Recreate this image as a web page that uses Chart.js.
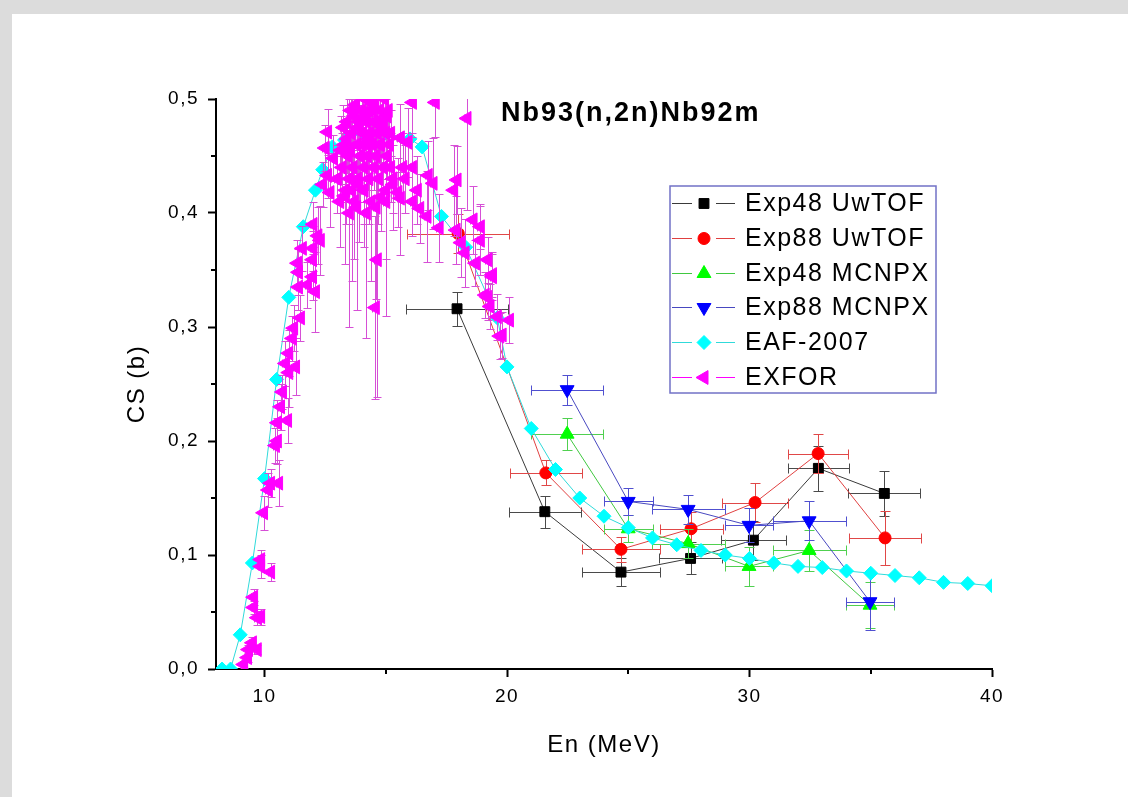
<!DOCTYPE html>
<html>
<head>
<meta charset="utf-8">
<title>Nb93(n,2n)Nb92m</title>
<script src="https://cdn.jsdelivr.net/npm/chart.js@4.4.1/dist/chart.umd.min.js"></script>
<style>
  html, body { margin: 0; padding: 0; }
  body { width: 1128px; height: 797px; background: #dcdcdc; overflow: hidden; position: relative; }
  #wrap { position: absolute; left: 12px; top: 14px; width: 1116px; height: 783px; background: #fff; }
</style>
</head>
<body>
<div id="wrap"><canvas id="chart"></canvas></div>
<script>
// axis ticks
const xTicks = [10, 20, 30, 40];
const xMinorTicks = [15, 25, 35];
const yTicks = [0, 0.1, 0.2, 0.3, 0.4, 0.5];
const yTickLabels = ['0,0', '0,1', '0,2', '0,3', '0,4', '0,5'];
const yMinorTicks = [0.05, 0.15, 0.25, 0.35, 0.45];

const seriesNames = ['Exp48 UwTOF', 'Exp88 UwTOF', 'Exp48 MCNPX', 'Exp88 MCNPX', 'EAF-2007', 'EXFOR'];

// Exp48 UwTOF
const exp48UwE   = [17.94, 21.56, 24.7, 27.57, 30.16, 32.84, 35.56];
const exp48UwCS  = [0.316, 0.138, 0.085, 0.097, 0.113, 0.176, 0.154];
const exp48UwDE  = [2.1, 1.48, 1.6, 1.3, 1.35, 1.25, 1.48];
const exp48UwDCS = [0.015, 0.014, 0.012, 0.014, 0.017, 0.02, 0.02];

// Exp88 UwTOF
const exp88UwE   = [17.99, 21.6, 24.7, 27.59, 30.23, 32.83, 35.59];
const exp88UwCS  = [0.382, 0.172, 0.105, 0.123, 0.146, 0.189, 0.115];
const exp88UwDE  = [2.1, 1.48, 1.6, 1.3, 1.35, 1.25, 1.48];
const exp88UwDCS = [0.017, 0.011, 0.011, 0.015, 0.017, 0.0175, 0.024];

// Exp48 MCNPX
const exp48McE   = [22.48, 25.0, 27.47, 29.98, 32.46, 34.97];
const exp48McCS  = [0.206, 0.123, 0.11, 0.09, 0.104, 0.056];
const exp48McDE  = [1.48, 1.0, 1.5, 1.0, 1.5, 1.0];
const exp48McDCS = [0.014, 0.012, 0.013, 0.017, 0.018, 0.02];

// Exp88 MCNPX
const exp88McE   = [22.48, 25.0, 27.47, 29.98, 32.46, 34.97];
const exp88McCS  = [0.245, 0.147, 0.14, 0.126, 0.13, 0.059];
const exp88McDE  = [1.48, 1.0, 1.5, 1.0, 1.5, 1.0];
const exp88McDCS = [0.013, 0.012, 0.013, 0.015, 0.017, 0.025];

// EAF-2007 evaluation
const eafE  = [8.25, 8.6, 9.0, 9.5, 10.0, 10.5, 11.0, 11.6, 12.1, 12.4,
               12.8, 13.3, 14.0, 15.0, 16.0, 16.5, 17.3, 18.3, 19.6, 20.0,
               21, 22, 23, 24, 25, 26, 27, 28, 29, 30,
               31, 32, 33, 34, 35, 36, 37, 38, 39, 40];
const eafCS = [0.0, 0.0, 0.03, 0.093, 0.167, 0.254, 0.326, 0.388, 0.42, 0.438,
               0.458, 0.464, 0.47, 0.47, 0.465, 0.458, 0.397, 0.37, 0.308, 0.265,
               0.211, 0.175, 0.15, 0.134, 0.124, 0.115, 0.109, 0.104, 0.1, 0.097,
               0.093, 0.09, 0.089, 0.086, 0.084, 0.082, 0.08, 0.076, 0.075, 0.073];

// EXFOR measurements
const exforE = [
  9.14, 9.3, 9.34, 9.5, 9.7, 9.7, 9.84, 9.55, 9.55, 9.84,
  10.25, 9.84, 9.96, 10.16, 10.25, 10.58, 10.45, 10.53, 10.95, 10.53,
  10.66, 10.74, 11.0, 11.28, 10.86, 11.0, 11.15, 11.2, 11.48, 12.1,
  11.77, 11.4, 11.98, 11.4, 11.98, 11.36, 12.0, 11.56, 12.3, 12.0,
  12.2, 12.4, 12.7, 12.6, 12.84, 12.5, 12.6,
  13.0, 13.1, 13.2, 13.3, 13.35, 13.4, 13.45, 13.5, 13.55, 13.6,
  13.65, 13.7, 13.75, 13.8, 13.85, 13.9, 13.95, 14.0, 14.05, 14.1,
  14.1, 14.15, 14.2, 14.2, 14.25, 14.3, 14.3, 14.35, 14.4, 14.45,
  14.5, 14.5, 14.55, 14.6, 14.65, 14.7, 14.75, 14.8, 14.8, 14.85,
  14.9, 14.95, 15.0, 15.05, 15.1, 15.2, 15.2, 15.3,
  13.3, 13.6, 13.9, 14.4, 15.0, 15.3, 15.8, 16.3,
  15.5, 15.6, 16.1, 16.4, 16.7, 17.2, 17.9, 15.6, 15.9, 16.1,
  16.75, 16.95, 17.94, 17.8, 15.7, 14.1, 14.65, 14.57, 17.04, 18.35,
  18.1, 18.6, 18.9, 18.9, 19.2, 19.4, 19.2, 19.6, 20.1, 19.8,
  18.27, 18.7, 19.4, 19.1, 19.3, 19.7, 16.1,
  13.15, 13.25, 13.4, 13.55, 13.7, 13.85, 14.0, 14.15, 14.3, 14.45,
  14.6, 14.75, 14.9, 15.05, 15.15, 13.5, 13.8, 14.2, 14.6, 15.0
];
const exforCS = [
  0.004, 0.010, 0.017, 0.023, 0.017, 0.045, 0.046, 0.054, 0.063, 0.090,
  0.085, 0.096, 0.137, 0.157, 0.163, 0.163, 0.196, 0.200, 0.218, 0.216,
  0.230, 0.243, 0.260, 0.265, 0.268, 0.277, 0.290, 0.299, 0.308, 0.331,
  0.337, 0.335, 0.344, 0.348, 0.359, 0.356, 0.369, 0.369, 0.376, 0.390,
  0.380, 0.425, 0.418, 0.433, 0.448, 0.457, 0.471,
  0.43, 0.41, 0.44, 0.46, 0.42, 0.48, 0.45, 0.43, 0.49, 0.47,
  0.44, 0.41, 0.495, 0.46, 0.43, 0.48, 0.45, 0.49, 0.47, 0.42,
  0.44, 0.50, 0.46, 0.48, 0.45, 0.49, 0.43, 0.47, 0.50, 0.46,
  0.44, 0.48, 0.495, 0.45, 0.47, 0.43, 0.49, 0.414, 0.46, 0.48,
  0.44, 0.50, 0.47, 0.45, 0.49, 0.44, 0.47, 0.43,
  0.415, 0.42, 0.425, 0.41, 0.42, 0.425, 0.43, 0.42,
  0.418, 0.413, 0.41, 0.404, 0.397, 0.387, 0.385, 0.466, 0.462, 0.44,
  0.433, 0.426, 0.429, 0.42, 0.44, 0.42, 0.359, 0.317, 0.497, 0.483,
  0.374, 0.394, 0.388, 0.376, 0.359, 0.344, 0.326, 0.309, 0.306, 0.293,
  0.365, 0.356, 0.346, 0.328, 0.318, 0.292, 0.497,
  0.455, 0.475, 0.465, 0.455, 0.485, 0.475, 0.46, 0.485, 0.465, 0.49,
  0.48, 0.46, 0.475, 0.485, 0.46, 0.40, 0.405, 0.40, 0.405, 0.41
];
const exforDCS = [
  0.003, 0.004, 0.004, 0.005, 0.004, 0.006, 0.007, 0.006, 0.007, 0.01,
  0.008, 0.008, 0.015, 0.015, 0.012, 0.02, 0.015, 0.02, 0.02, 0.02,
  0.02, 0.015, 0.03, 0.025, 0.02, 0.02, 0.02, 0.02, 0.02, 0.035,
  0.02, 0.02, 0.02, 0.02, 0.025, 0.02, 0.02, 0.02, 0.03, 0.02,
  0.025, 0.02, 0.03, 0.02, 0.02, 0.02, 0.02,
  0.03, 0.04, 0.03, 0.02, 0.03, 0.03, 0.02, 0.04, 0.03, 0.02,
  0.03, 0.05, 0.02, 0.03, 0.02, 0.02, 0.04, 0.02, 0.03, 0.03,
  0.02, 0.03, 0.02, 0.03, 0.03, 0.02, 0.04, 0.02, 0.03, 0.03,
  0.02, 0.02, 0.03, 0.03, 0.02, 0.04, 0.02, 0.03, 0.02, 0.03,
  0.03, 0.02, 0.03, 0.02, 0.03, 0.03, 0.02, 0.03,
  0.06, 0.08, 0.05, 0.07, 0.06, 0.04, 0.03, 0.03,
  0.03, 0.05, 0.03, 0.03, 0.04, 0.03, 0.03, 0.03, 0.03, 0.03,
  0.03, 0.04, 0.03, 0.04, 0.03, 0.05, 0.12, 0.08, 0.03, 0.08,
  0.03, 0.03, 0.02, 0.03, 0.02, 0.02, 0.02, 0.02, 0.02, 0.02,
  0.03, 0.02, 0.02, 0.02, 0.02, 0.02, 0.03,
  0.03, 0.02, 0.03, 0.02, 0.03, 0.02, 0.03, 0.02, 0.03, 0.02,
  0.03, 0.02, 0.03, 0.02, 0.03, 0.10, 0.09, 0.11, 0.08, 0.10
];
const exforDE = 0.12;

const FONT = 'Arial, "Liberation Sans", sans-serif';

const toPoints = (xs, ys) => xs.map((x, i) => ({ x: x, y: ys[i] }));

const datasets = [
  {
    label: seriesNames[0], order: 6,
    data: toPoints(exp48UwE, exp48UwCS), errX: exp48UwDE, errY: exp48UwDCS, errColor: '#4a4a4a', cap: 5,
    showLine: true, borderColor: '#3a3a3a', borderWidth: 1,
    pointStyle: 'rect', pointRadius: 7, pointBackgroundColor: '#000', pointBorderColor: '#000', pointBorderWidth: 1
  },
  {
    label: seriesNames[1], order: 5,
    data: toPoints(exp88UwE, exp88UwCS), errX: exp88UwDE, errY: exp88UwDCS, errColor: '#e04848', cap: 5,
    showLine: true, borderColor: '#e04040', borderWidth: 1,
    pointStyle: 'circle', pointRadius: 6, pointBackgroundColor: '#ff0000', pointBorderColor: '#ff0000', pointBorderWidth: 1
  },
  {
    label: seriesNames[2], order: 4,
    data: toPoints(exp48McE, exp48McCS), errX: exp48McDE, errY: exp48McDCS, errColor: '#50d050', cap: 5,
    showLine: true, borderColor: '#40c840', borderWidth: 1,
    pointStyle: 'triangle', pointRadius: 8, pointBackgroundColor: '#00ff00', pointBorderColor: '#00ff00', pointBorderWidth: 1
  },
  {
    label: seriesNames[3], order: 3,
    data: toPoints(exp88McE, exp88McCS), errX: exp88McDE, errY: exp88McDCS, errColor: '#5050d0', cap: 5,
    showLine: true, borderColor: '#4848c0', borderWidth: 1,
    pointStyle: 'triangle', rotation: 180, pointRotation: 180, pointRadius: 8,
    pointBackgroundColor: '#0000ff', pointBorderColor: '#0000ff', pointBorderWidth: 1
  },
  {
    label: seriesNames[4], order: 2,
    data: toPoints(eafE, eafCS),
    showLine: true, borderColor: '#30dada', borderWidth: 1,
    pointStyle: 'rectRot', pointRadius: 7, pointBackgroundColor: '#00ffff', pointBorderColor: '#00ffff', pointBorderWidth: 1
  },
  {
    label: seriesNames[5], order: 1,
    data: toPoints(exforE, exforCS), errX: exforE.map(() => exforDE), errY: exforDCS, errColor: '#d64fd6', cap: 4,
    showLine: false, borderColor: '#ff00ff', borderWidth: 1,
    pointStyle: 'triangle', rotation: -90, pointRotation: -90, pointRadius: 8,
    pointBackgroundColor: '#ff00ff', pointBorderColor: '#ff00ff', pointBorderWidth: 1
  }
];
datasets.forEach(d => { d.clip = 0; d.pointHoverRadius = d.pointRadius; });

const decor = {
  id: 'decor',
  beforeDraw(chart) {
    chart.ctx.letterSpacing = '1.5px';
  },
  beforeDatasetDraw(chart, args) {
    const ds = chart.data.datasets[args.index];
    if (!ds.errY) return;
    const { ctx, chartArea: a, scales: { x, y } } = chart;
    ctx.save();
    ctx.beginPath();
    ctx.rect(a.left, a.top, a.right - a.left, a.bottom - a.top);
    ctx.clip();
    ctx.strokeStyle = ds.errColor;
    ctx.lineWidth = 1;
    ctx.beginPath();
    ds.data.forEach((p, i) => {
      const px = Math.round(x.getPixelForValue(p.x)) + 0.5;
      const py = Math.round(y.getPixelForValue(p.y)) + 0.5;
      const c = ds.cap;
      if (ds.errX && ds.errX[i]) {
        const l = Math.round(x.getPixelForValue(p.x - ds.errX[i])) + 0.5;
        const r = Math.round(x.getPixelForValue(p.x + ds.errX[i])) + 0.5;
        ctx.moveTo(l, py); ctx.lineTo(r, py);
        ctx.moveTo(l, py - c); ctx.lineTo(l, py + c);
        ctx.moveTo(r, py - c); ctx.lineTo(r, py + c);
      }
      if (ds.errY[i]) {
        const t = Math.round(y.getPixelForValue(p.y + ds.errY[i])) + 0.5;
        const b = Math.round(y.getPixelForValue(p.y - ds.errY[i])) + 0.5;
        ctx.moveTo(px, t); ctx.lineTo(px, b);
        ctx.moveTo(px - c, t); ctx.lineTo(px + c, t);
        ctx.moveTo(px - c, b); ctx.lineTo(px + c, b);
      }
    });
    ctx.stroke();
    ctx.restore();
  },
  afterDraw(chart) {
    const { ctx, chartArea: a, scales: { x, y } } = chart;
    ctx.save();
    // minor ticks
    ctx.strokeStyle = '#000';
    ctx.lineWidth = 2;
    ctx.beginPath();
    xMinorTicks.forEach(v => {
      const px = Math.round(x.getPixelForValue(v));
      ctx.moveTo(px, a.bottom); ctx.lineTo(px, a.bottom + 5);
    });
    yMinorTicks.forEach(v => {
      const py = Math.round(y.getPixelForValue(v));
      ctx.moveTo(a.left, py); ctx.lineTo(a.left - 5, py);
    });
    ctx.stroke();

    // title
    ctx.fillStyle = '#000';
    ctx.font = 'bold 27px ' + FONT;
    ctx.letterSpacing = '2px';
    ctx.textAlign = 'left';
    ctx.textBaseline = 'middle';
    ctx.fillText('Nb93(n,2n)Nb92m', a.left + 285, a.top + 15);

    // legend
    const lx = a.left + 454, ly = a.top + 87, lw = 266, lh = 207;
    ctx.fillStyle = '#fff';
    ctx.fillRect(lx, ly, lw, lh);
    ctx.strokeStyle = '#7272c6';
    ctx.lineWidth = 1.5;
    ctx.strokeRect(lx, ly, lw, lh);
    ctx.font = '25px ' + FONT;
    ctx.letterSpacing = '1.5px';
    seriesNames.forEach((name, i) => {
      const ds = chart.data.datasets.find(d => d.label === name);
      const ry = Math.round(ly + 17 + i * 34.8) + 0.5;
      ctx.strokeStyle = ds.borderColor;
      ctx.lineWidth = 1;
      ctx.beginPath();
      ctx.moveTo(lx + 2, ry); ctx.lineTo(lx + 22, ry);
      ctx.moveTo(lx + 46, ry); ctx.lineTo(lx + 65, ry);
      ctx.stroke();
      ctx.fillStyle = ds.pointBackgroundColor;
      ctx.strokeStyle = ds.pointBorderColor;
      Chart.helpers.drawPoint(ctx, {
        pointStyle: ds.pointStyle, rotation: ds.pointRotation || 0,
        radius: ds.pointRadius, borderWidth: 1
      }, lx + 34, ry);
      ctx.fillStyle = '#000';
      ctx.fillText(name, lx + 75, ry + 1);
    });
    ctx.restore();
  }
};

new Chart(document.getElementById('chart'), {
  type: 'scatter',
  data: { datasets: datasets },
  options: {
    responsive: true,
    maintainAspectRatio: false,
    animation: false,
    events: [],
    layout: { padding: { left: 0, top: 85, right: 136, bottom: 0 } },
    plugins: { legend: { display: false }, tooltip: { enabled: false } },
    elements: { line: { tension: 0 } },
    scales: {
      x: {
        type: 'linear', min: 8, max: 40,
        afterFit: s => { s.height = 128; },
        afterBuildTicks: s => { s.ticks = xTicks.map(v => ({ value: v })); },
        grid: { drawOnChartArea: false, drawTicks: true, tickLength: 8, tickWidth: 2, tickColor: '#000' },
        border: { display: true, color: '#000', width: 2 },
        ticks: { color: '#000', font: { family: FONT, size: 19 }, padding: 8, maxRotation: 0, autoSkip: false },
        title: { display: true, text: 'En (MeV)', color: '#000', font: { family: FONT, size: 24 }, padding: { top: 0, bottom: 37.6 } }
      },
      y: {
        type: 'linear', min: 0, max: 0.5,
        afterFit: s => { s.width = 204; },
        afterBuildTicks: s => { s.ticks = yTicks.map(v => ({ value: v })); },
        grid: { drawOnChartArea: false, drawTicks: true, tickLength: 8, tickWidth: 2, tickColor: '#000' },
        border: { display: true, color: '#000', width: 2 },
        ticks: {
          color: '#000', font: { family: FONT, size: 19 }, padding: 9, autoSkip: false,
          callback: v => yTickLabels[yTicks.indexOf(v)]
        },
        title: { display: true, text: 'CS (b)', color: '#000', font: { family: FONT, size: 24 }, padding: { top: 110.6, bottom: 0 } }
      }
    }
  },
  plugins: [decor]
});
</script>
</body>
</html>
